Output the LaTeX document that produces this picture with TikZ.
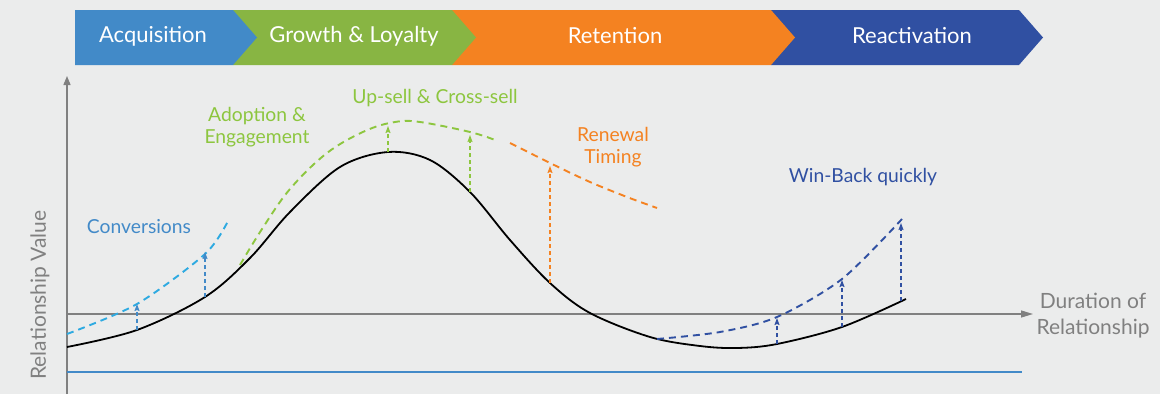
\documentclass[tikz,border=0pt]{standalone}
\usepackage{fontspec}
\setmainfont{Lato}
\usetikzlibrary{arrows.meta,positioning}
\definecolor{PageGrey}{HTML}{EBECEC}
\definecolor{AxisGrey}{HTML}{808080}
\definecolor{AcqBlue}{HTML}{428AC8}
\definecolor{ConvBlue}{HTML}{2EAAE1}
\definecolor{GrowGreen}{HTML}{88B543}
\definecolor{DashGreen}{HTML}{8DC63F}
\definecolor{RetOrange}{HTML}{F48221}
\definecolor{ReacBlue}{HTML}{3050A2}
\tikzset{
	stage/.style={text=white,font=\fontsize{22}{26}\selectfont},
	lbl/.style={align=center,font=\fontsize{19.3}{22}\selectfont},
	axislbl/.style={align=center,text=AxisGrey,font=\fontsize{21}{26}\selectfont},
	potential/.style={dash pattern=on 7pt off 5pt,line width=1.9pt},
	lift/.style={dash pattern=on 4pt off 3pt,line width=1.1pt,-{Stealth[length=7pt,width=5pt,inset=1pt]}}
}
\begin{document}
\begin{tikzpicture}[x=1pt,y=-1pt]
		\fill[PageGrey] (0,0) rectangle (1160,394);
		\useasboundingbox (0,0) rectangle (1160,394);
		% lifecycle banner, back to front
		\fill[ReacBlue] (771,10) -- (1019,10) -- (1043,37.5) -- (1019,65) -- (771,65) -- cycle;
		\fill[RetOrange] (452,10) -- (771,10) -- (795,37.5) -- (771,65) -- (452,65) -- cycle;
		\fill[GrowGreen] (233,10) -- (452,10) -- (476,37.5) -- (452,65) -- (233,65) -- cycle;
		\fill[AcqBlue] (75,10) -- (233,10) -- (257,37.5) -- (233,65) -- (75,65) -- cycle;
		\node[stage] (acq) at (153,36) {Acquisition};
		\node[stage] (grow) at (354,36) {Growth \& Loyalty};
		\node[stage] (ret) at (615,36) {Retention};
		\node[stage] (reac) at (912,36) {Reactivation};
		% axes
		\coordinate (O) at (67,394);
		\coordinate (ytop) at (67,76);
		\coordinate (xl) at (67,314);
		\coordinate (xr) at (1033,314);
		\draw[AxisGrey,line width=1.3pt,-{Triangle[length=9pt,width=7pt]}] (O) -- (ytop);
		\draw[AxisGrey,line width=1.3pt,-{Triangle[length=12pt,width=7pt]}] (xl) -- (xr);
		\draw[AcqBlue,line width=2.6pt] (67,372) -- (1022,372);
		\node[axislbl,rotate=90] (yl) at (40,295) {Relationship Value};
		\node[axislbl,right=0pt of xr,yshift=-2pt] (xlab) {Duration of\\Relationship};
		% points where the lifts start
		\coordinate (c1) at (137,330);
		\coordinate (c2) at (205,297);
		\coordinate (g1) at (388,152);
		\coordinate (g2) at (470,192);
		\coordinate (o1) at (550,283);
		\coordinate (w1) at (777,344);
		\coordinate (w2) at (842,327);
		\coordinate (w3) at (901,301);
		% actual relationship value
		\draw[black,line width=1.8pt] plot[smooth,tension=0.55] coordinates {(67,347) (c1) (c2) (250,258) (290,212) (340,167) (g1) (430,160) (g2) (510,240) (o1) (590,313) (650,337) (700,346) (737,348) (w1) (w2) (906,299)};
		% potential curves
		\draw[ConvBlue,potential] plot[smooth] coordinates {(67,334) (137,304) (205,254) (228,221)};
		\draw[DashGreen,potential] plot[smooth,tension=0.6] coordinates {(240,265) (262,229) (290,189) (327,153) (365,131) (395,122) (420,122) (470,132) (495,140)};
		\draw[RetOrange,potential] plot[smooth] coordinates {(510,143) (550,163) (590,182) (627,197) (657,208)};
		\draw[ReacBlue,potential] plot[smooth] coordinates {(657,339) (720,332) (777,317) (842,279) (902,219)};
		% lifts
		\coordinate (c1t) at (137,304);
		\coordinate (c2t) at (205,252);
		\coordinate (g1t) at (388,126);
		\coordinate (g2t) at (470,135);
		\coordinate (o1t) at (550,166);
		\coordinate (w1t) at (777,318);
		\coordinate (w2t) at (842,280);
		\coordinate (w3t) at (901,223);
		\draw[lift,AcqBlue] (c1) -- (c1t);
		\draw[lift,AcqBlue] (c2) -- (c2t);
		\draw[lift,DashGreen] (g1) -- (g1t);
		\draw[lift,DashGreen] (g2) -- (g2t);
		\draw[lift,RetOrange] (o1) -- (o1t);
		\draw[lift,ReacBlue] (w1) -- (w1t);
		\draw[lift,ReacBlue] (w2) -- (w2t);
		\draw[lift,ReacBlue] (w3) -- (w3t);
		% labels
		\node[lbl,text=AcqBlue] (conv) at (139,227) {Conversions};
		\node[lbl,text=DashGreen] (adopt) at (257,127) {Adoption \&\\Engagement};
		\node[lbl,text=DashGreen] (upsell) at (435,98) {Up-sell \& Cross-sell};
		\node[lbl,text=RetOrange] (renew) at (613,147) {Renewal\\Timing};
		\node[lbl,text=ReacBlue] (winback) at (863,177) {Win-Back quickly};
		\end{tikzpicture}
\end{document}
